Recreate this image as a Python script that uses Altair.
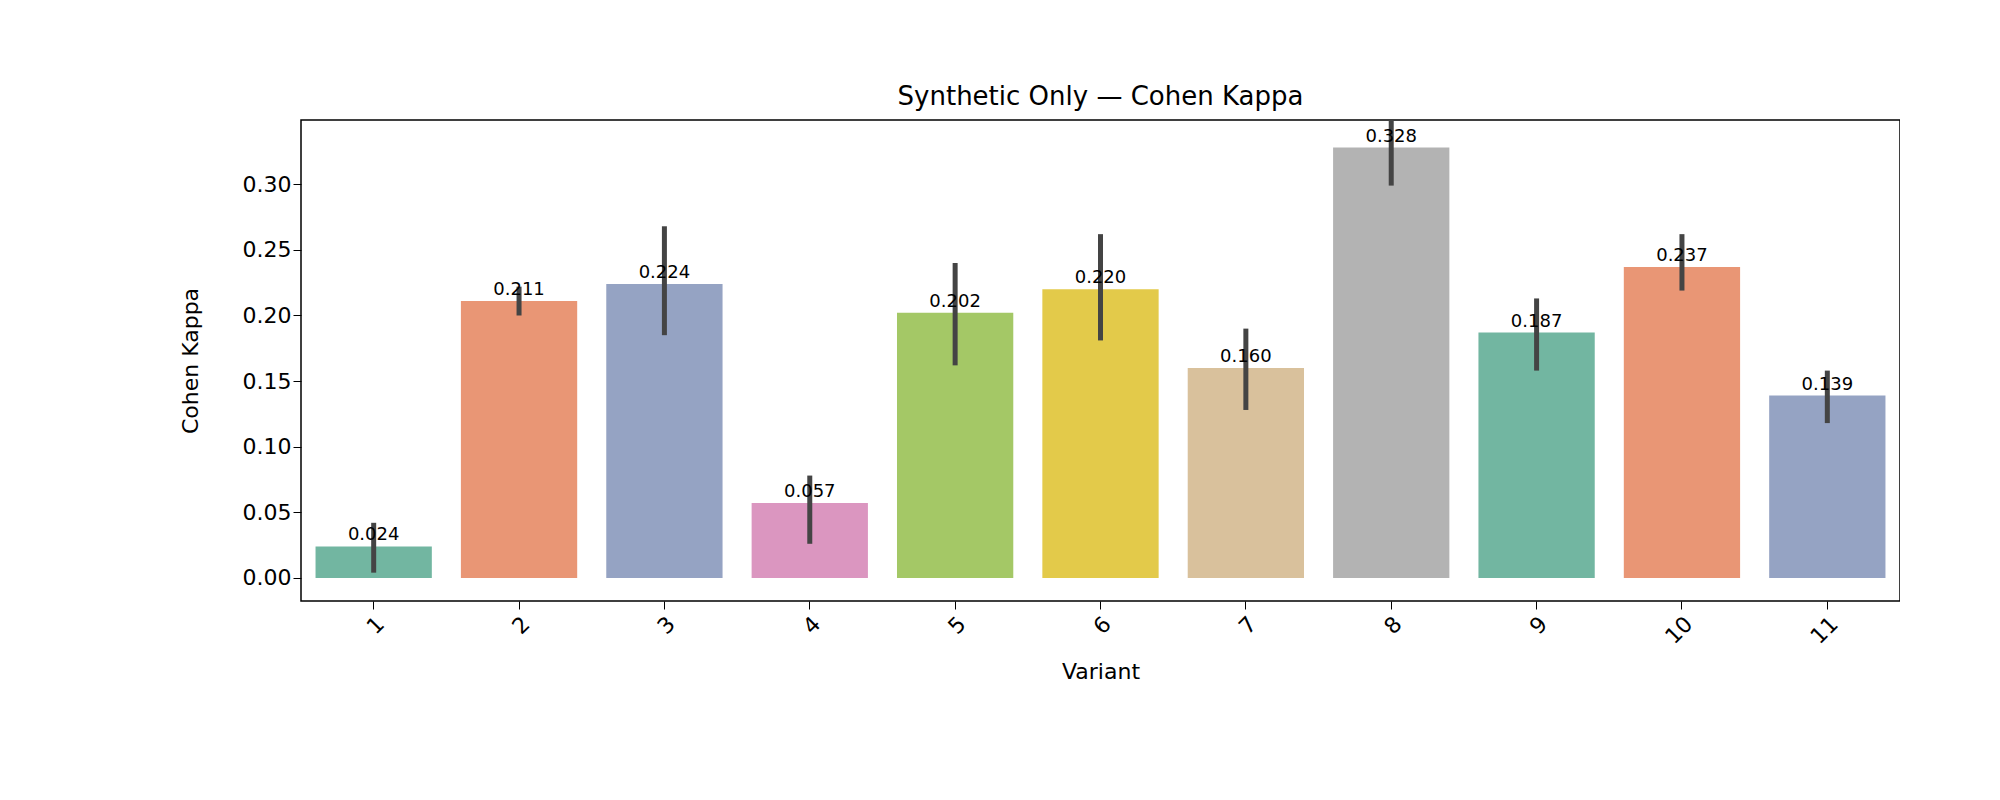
import pandas as pd
import altair as alt

variants = ["1", "2", "3", "4", "5", "6", "7", "8", "9", "10", "11"]
kappa = [0.024, 0.211, 0.224, 0.057, 0.202, 0.220, 0.160, 0.328, 0.187, 0.237, 0.139]
ci_low = [0.004, 0.200, 0.185, 0.026, 0.162, 0.181, 0.128, 0.299, 0.158, 0.219, 0.118]
ci_high = [0.042, 0.222, 0.268, 0.078, 0.240, 0.262, 0.190, 0.350, 0.213, 0.262, 0.158]
colors = ["#72b6a1", "#e99675", "#95a3c3", "#db96c0", "#a4c866", "#e3ca4a",
          "#d9c19c", "#b3b3b3", "#72b6a1", "#e99675", "#95a3c3"]

df = pd.DataFrame({"variant": variants, "kappa": kappa, "lo": ci_low, "hi": ci_high,
                   "label": [f"{v:.3f}" for v in kappa]})

x = alt.X("variant:N", sort=variants, title="Variant",
          scale=alt.Scale(paddingInner=0.2, paddingOuter=0.1),
          axis=alt.Axis(labelAngle=-45, labelAlign="right", labelBaseline="top",
                        labelFontSize=22, titleFontSize=22, titlePadding=14,
                        tickColor="black", domain=False, tickSize=8, labelPadding=4))
yscale = alt.Scale(domain=[-0.0176, 0.349], nice=False, zero=False)

base = alt.Chart(df)
bars = base.mark_bar().encode(
    x=x,
    y=alt.Y("kappa:Q", title="Cohen Kappa", scale=yscale,
            axis=alt.Axis(values=[0, 0.05, 0.10, 0.15, 0.20, 0.25, 0.30], format=".2f",
                          grid=False, labelFontSize=22, titleFontSize=22, titlePadding=40,
                          tickColor="black", domain=False, tickSize=8)),
    color=alt.Color("variant:N", sort=variants, legend=None,
                    scale=alt.Scale(domain=variants, range=colors)),
)
errs = base.mark_rule(color="#444444", strokeWidth=5, clip=True).encode(
    x=alt.X("variant:N", sort=variants), y="lo:Q", y2="hi:Q")
labels = base.mark_text(fontSize=18, dy=-11, color="black", font="DejaVu Sans").encode(
    x=alt.X("variant:N", sort=variants), y="kappa:Q", text="label:N")

chart = (
    alt.layer(bars, errs, labels)
    .properties(
        width=1599, height=481,
        title=alt.TitleParams("Synthetic Only — Cohen Kappa", fontSize=26,
                              fontWeight="normal", offset=10),
        autosize=alt.AutoSizeParams(type="none"),
        padding={"left": 293, "top": 112, "right": 0, "bottom": 200},
    )
    .configure(font="DejaVu Sans")
    .configure_axis(labelColor="black", titleColor="black", labelFont="DejaVu Sans",
                    titleFont="DejaVu Sans", titleFontWeight="normal")
    .configure_view(stroke="black", strokeWidth=1.5)
    .configure_title(font="DejaVu Sans", color="black")
)

chart.save("out.html", embed_options={"renderer": "svg", "actions": False})
